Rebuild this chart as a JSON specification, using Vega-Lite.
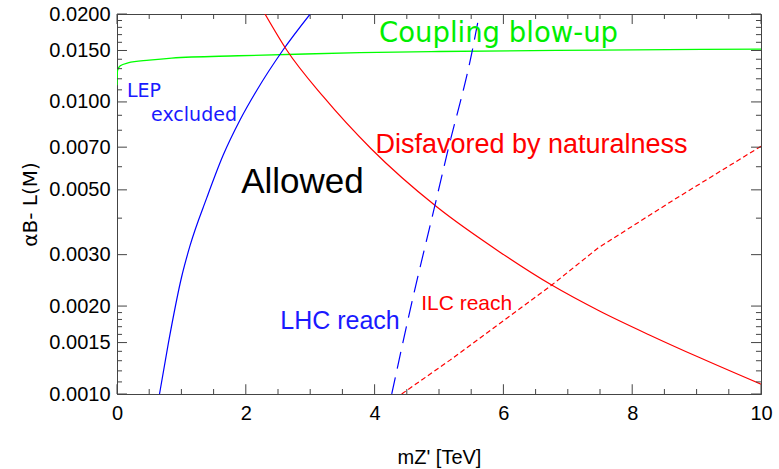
{
  "$schema": "https://vega.github.io/schema/vega-lite/v6.json",
  "width": 644,
  "height": 380,
  "autosize": {"type": "none"},
  "padding": {"left": 117, "top": 14, "right": 18, "bottom": 75},
  "background": "white",
  "config": {
    "view": {"stroke": "#444444", "strokeWidth": 1},
    "axis": {
      "domainColor": "#444444",
      "ticks": false,
      "grid": false,
      "labelFont": "Liberation Sans",
      "labelFontSize": 20,
      "labelColor": "black",
      "titleFont": "Liberation Sans",
      "titleFontWeight": "normal",
      "titleColor": "black",
      "labelOverlap": false,
      "labelFlush": false
    }
  },
  "datasets": {
    "curves": [
      {"series": "lep", "x": 0.66, "y": 0.001},
      {"series": "lep", "x": 0.797, "y": 0.00149},
      {"series": "lep", "x": 1.004, "y": 0.00252},
      {"series": "lep", "x": 1.134, "y": 0.00322},
      {"series": "lep", "x": 1.398, "y": 0.00472},
      {"series": "lep", "x": 1.646, "y": 0.00655},
      {"series": "lep", "x": 1.91, "y": 0.00867},
      {"series": "lep", "x": 2.174, "y": 0.01099},
      {"series": "lep", "x": 2.578, "y": 0.01506},
      {"series": "lep", "x": 3.0, "y": 0.02},
      {"series": "nat", "x": 2.298, "y": 0.02},
      {"series": "nat", "x": 2.635, "y": 0.01506},
      {"series": "nat", "x": 3.204, "y": 0.01042},
      {"series": "nat", "x": 3.95, "y": 0.0069},
      {"series": "nat", "x": 4.964, "y": 0.004375},
      {"series": "nat", "x": 5.947, "y": 0.00306},
      {"series": "nat", "x": 6.75, "y": 0.00236},
      {"series": "nat", "x": 7.5, "y": 0.00192},
      {"series": "nat", "x": 8.276, "y": 0.00159},
      {"series": "nat", "x": 9.053, "y": 0.00133},
      {"series": "nat", "x": 10.0, "y": 0.00108},
      {"series": "blow", "x": 0.0, "y": 0.0114},
      {"series": "blow", "x": 0.008, "y": 0.0128},
      {"series": "blow", "x": 0.05, "y": 0.0133},
      {"series": "blow", "x": 0.17, "y": 0.0136},
      {"series": "blow", "x": 0.5, "y": 0.0139},
      {"series": "blow", "x": 0.85, "y": 0.01413},
      {"series": "blow", "x": 1.88, "y": 0.01439},
      {"series": "blow", "x": 2.92, "y": 0.01459},
      {"series": "blow", "x": 3.77, "y": 0.01474},
      {"series": "blow", "x": 5.0, "y": 0.01488},
      {"series": "blow", "x": 7.5, "y": 0.01505},
      {"series": "blow", "x": 10.0, "y": 0.01516},
      {"series": "lhc", "x": 4.266, "y": 0.001},
      {"series": "lhc", "x": 4.576, "y": 0.002048},
      {"series": "lhc", "x": 4.93, "y": 0.00436},
      {"series": "lhc", "x": 5.14, "y": 0.00685},
      {"series": "lhc", "x": 5.508, "y": 0.01467},
      {"series": "lhc", "x": 5.627, "y": 0.02},
      {"series": "ilc", "x": 4.42, "y": 0.001},
      {"series": "ilc", "x": 5.171, "y": 0.001306},
      {"series": "ilc", "x": 6.75, "y": 0.00236},
      {"series": "ilc", "x": 7.469, "y": 0.00316},
      {"series": "ilc", "x": 8.638, "y": 0.00461},
      {"series": "ilc", "x": 10.0, "y": 0.00705}
    ],
    "labels": [
      {"text": "Coupling blow-up", "x": 5.924, "y": 0.01603},
      {"text": "LEP", "x": 0.419, "y": 0.01042},
      {"text": "excluded", "x": 1.196, "y": 0.00862},
      {"text": "Disfavored by naturalness", "x": 6.436, "y": 0.00667},
      {"text": "Allowed", "x": 2.88, "y": 0.00486},
      {"text": "LHC reach", "x": 3.463, "y": 0.001664},
      {"text": "ILC reach", "x": 5.43, "y": 0.001937}
    ],
    "xticks": [
      {"v": 0, "kind": "major"}, {"v": 0.5, "kind": "minor"}, {"v": 1, "kind": "minor"}, {"v": 1.5, "kind": "minor"},
      {"v": 2, "kind": "major"}, {"v": 2.5, "kind": "minor"}, {"v": 3, "kind": "minor"}, {"v": 3.5, "kind": "minor"},
      {"v": 4, "kind": "major"}, {"v": 4.5, "kind": "minor"}, {"v": 5, "kind": "minor"}, {"v": 5.5, "kind": "minor"},
      {"v": 6, "kind": "major"}, {"v": 6.5, "kind": "minor"}, {"v": 7, "kind": "minor"}, {"v": 7.5, "kind": "minor"},
      {"v": 8, "kind": "major"}, {"v": 8.5, "kind": "minor"}, {"v": 9, "kind": "minor"}, {"v": 9.5, "kind": "minor"},
      {"v": 10, "kind": "major"}
    ],
    "yticks": [
      {"v": 0.001, "kind": "major"}, {"v": 0.0011, "kind": "minor"}, {"v": 0.0012, "kind": "minor"}, {"v": 0.0013, "kind": "minor"},
      {"v": 0.0014, "kind": "minor"}, {"v": 0.0015, "kind": "major"}, {"v": 0.0016, "kind": "minor"}, {"v": 0.0017, "kind": "minor"},
      {"v": 0.0018, "kind": "minor"}, {"v": 0.0019, "kind": "minor"}, {"v": 0.002, "kind": "major"}, {"v": 0.003, "kind": "major"},
      {"v": 0.004, "kind": "minor"}, {"v": 0.005, "kind": "major"}, {"v": 0.006, "kind": "minor"}, {"v": 0.007, "kind": "major"},
      {"v": 0.008, "kind": "minor"}, {"v": 0.009, "kind": "minor"}, {"v": 0.01, "kind": "major"}, {"v": 0.011, "kind": "minor"},
      {"v": 0.012, "kind": "minor"}, {"v": 0.013, "kind": "minor"}, {"v": 0.014, "kind": "minor"}, {"v": 0.015, "kind": "major"},
      {"v": 0.016, "kind": "minor"}, {"v": 0.017, "kind": "minor"}, {"v": 0.018, "kind": "minor"}, {"v": 0.019, "kind": "minor"},
      {"v": 0.02, "kind": "major"}
    ]
  },
  "resolve": {"axis": {"x": "independent", "y": "independent"}},
  "layer": [
    {
      "data": {"name": "curves"},
      "encoding": {
        "x": {
          "field": "x",
          "type": "quantitative",
          "scale": {"domain": [0, 10], "nice": false, "zero": false},
          "axis": {
            "orient": "bottom",
            "values": [0, 2, 4, 6, 8, 10],
            "format": "d",
            "labelPadding": 9,
            "title": "mZ' [TeV]",
            "titleFontSize": 20,
            "titlePadding": 24
          }
        },
        "y": {
          "field": "y",
          "type": "quantitative",
          "scale": {"type": "log", "domain": [0.001, 0.02], "nice": false},
          "axis": {
            "orient": "left",
            "values": [0.001, 0.0015, 0.002, 0.003, 0.005, 0.007, 0.01, 0.015, 0.02],
            "format": ".4f",
            "labelPadding": 7,
            "title": "αB- L(M)",
            "titleFont": "DejaVu Sans",
            "titleFontSize": 20,
            "titlePadding": 8
          }
        }
      },
      "layer": [
        {"transform": [{"filter": "datum.series == 'blow'"}], "mark": {"type": "line", "color": "#00ff00", "strokeWidth": 1.3, "interpolate": "monotone", "clip": true}},
        {"transform": [{"filter": "datum.series == 'lep'"}], "mark": {"type": "line", "color": "#0000ff", "strokeWidth": 1.2, "interpolate": "monotone", "clip": true}},
        {"transform": [{"filter": "datum.series == 'nat'"}], "mark": {"type": "line", "color": "#ff0000", "strokeWidth": 1.2, "interpolate": "monotone", "clip": true}},
        {"transform": [{"filter": "datum.series == 'lhc'"}], "mark": {"type": "line", "color": "#0000ff", "strokeWidth": 1.2, "strokeDash": [17, 9], "interpolate": "monotone", "clip": true}},
        {"transform": [{"filter": "datum.series == 'ilc'"}], "mark": {"type": "line", "color": "#ff0000", "strokeWidth": 1.2, "strokeDash": [5, 3], "interpolate": "linear", "clip": true}},
        {"data": {"name": "labels"}, "transform": [{"filter": "datum.text == 'Coupling blow-up'"}], "mark": {"type": "text", "font": "DejaVu Sans", "fontSize": 27.5, "color": "#00ee00", "align": "center", "baseline": "alphabetic"}, "encoding": {"text": {"field": "text"}}},
        {"data": {"name": "labels"}, "transform": [{"filter": "datum.text == 'LEP' || datum.text == 'excluded'"}], "mark": {"type": "text", "font": "DejaVu Sans", "fontSize": 19, "color": "#1a1aff", "align": "center", "baseline": "alphabetic"}, "encoding": {"text": {"field": "text"}}},
        {"data": {"name": "labels"}, "transform": [{"filter": "datum.text == 'Disfavored by naturalness'"}], "mark": {"type": "text", "font": "Liberation Sans", "fontSize": 27, "color": "#ff0000", "align": "center", "baseline": "alphabetic"}, "encoding": {"text": {"field": "text"}}},
        {"data": {"name": "labels"}, "transform": [{"filter": "datum.text == 'Allowed'"}], "mark": {"type": "text", "font": "Liberation Sans", "fontSize": 35, "color": "#000000", "align": "center", "baseline": "alphabetic"}, "encoding": {"text": {"field": "text"}}},
        {"data": {"name": "labels"}, "transform": [{"filter": "datum.text == 'LHC reach'"}], "mark": {"type": "text", "font": "Liberation Sans", "fontSize": 25, "color": "#1a1aff", "align": "center", "baseline": "alphabetic"}, "encoding": {"text": {"field": "text"}}},
        {"data": {"name": "labels"}, "transform": [{"filter": "datum.text == 'ILC reach'"}], "mark": {"type": "text", "font": "Liberation Sans", "fontSize": 21, "color": "#ff0000", "align": "center", "baseline": "alphabetic"}, "encoding": {"text": {"field": "text"}}}
      ]
    },
    {"data": {"name": "xticks"}, "transform": [{"filter": "datum.kind == 'major'"}], "mark": {"type": "rule", "color": "#444444", "strokeWidth": 1}, "encoding": {"x": {"field": "v", "type": "quantitative", "axis": null}, "y": {"datum": 0.001, "type": "quantitative", "axis": null}, "y2": {"datum": 0.00108}}},
    {"data": {"name": "xticks"}, "transform": [{"filter": "datum.kind == 'minor'"}], "mark": {"type": "rule", "color": "#444444", "strokeWidth": 1}, "encoding": {"x": {"field": "v", "type": "quantitative", "axis": null}, "y": {"datum": 0.001, "type": "quantitative", "axis": null}, "y2": {"datum": 0.00104}}},
    {"data": {"name": "xticks"}, "transform": [{"filter": "datum.kind == 'major'"}], "mark": {"type": "rule", "color": "#444444", "strokeWidth": 1}, "encoding": {"x": {"field": "v", "type": "quantitative", "axis": null}, "y": {"datum": 0.02, "type": "quantitative", "axis": null}, "y2": {"datum": 0.01848}}},
    {"data": {"name": "xticks"}, "transform": [{"filter": "datum.kind == 'minor'"}], "mark": {"type": "rule", "color": "#444444", "strokeWidth": 1}, "encoding": {"x": {"field": "v", "type": "quantitative", "axis": null}, "y": {"datum": 0.02, "type": "quantitative", "axis": null}, "y2": {"datum": 0.01923}}},
    {"data": {"name": "yticks"}, "transform": [{"filter": "datum.kind == 'major'"}], "mark": {"type": "rule", "color": "#444444", "strokeWidth": 1}, "encoding": {"y": {"field": "v", "type": "quantitative", "axis": null}, "x": {"datum": 0, "type": "quantitative", "axis": null}, "x2": {"datum": 0.155}}},
    {"data": {"name": "yticks"}, "transform": [{"filter": "datum.kind == 'minor'"}], "mark": {"type": "rule", "color": "#444444", "strokeWidth": 1}, "encoding": {"y": {"field": "v", "type": "quantitative", "axis": null}, "x": {"datum": 0, "type": "quantitative", "axis": null}, "x2": {"datum": 0.078}}},
    {"data": {"name": "yticks"}, "transform": [{"filter": "datum.kind == 'major'"}], "mark": {"type": "rule", "color": "#444444", "strokeWidth": 1}, "encoding": {"y": {"field": "v", "type": "quantitative", "axis": null}, "x": {"datum": 10, "type": "quantitative", "axis": null}, "x2": {"datum": 9.845}}},
    {"data": {"name": "yticks"}, "transform": [{"filter": "datum.kind == 'minor'"}], "mark": {"type": "rule", "color": "#444444", "strokeWidth": 1}, "encoding": {"y": {"field": "v", "type": "quantitative", "axis": null}, "x": {"datum": 10, "type": "quantitative", "axis": null}, "x2": {"datum": 9.922}}}
  ]
}
